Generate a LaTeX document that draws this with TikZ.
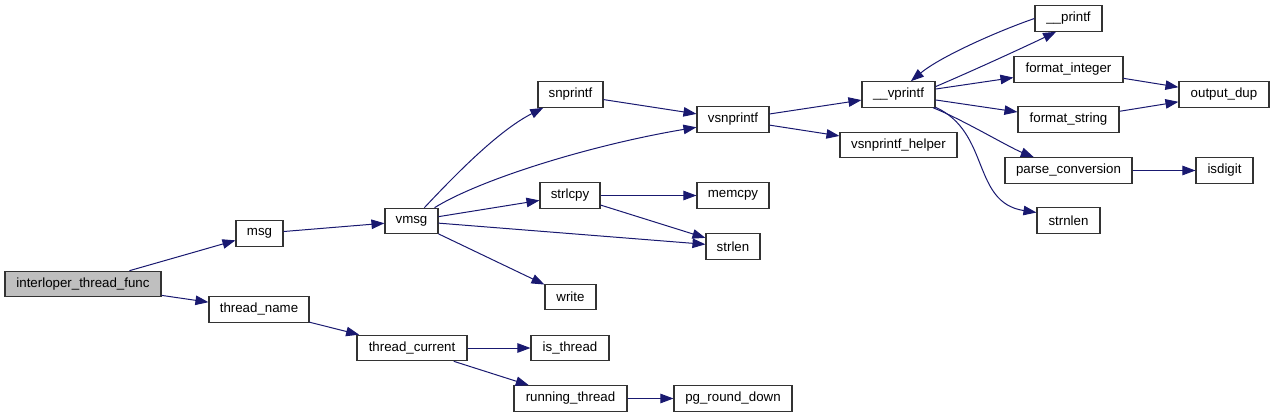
\documentclass[tikz,border=0pt]{standalone}
\usepackage{fontspec}
\newfontfamily\fnfont{Liberation Sans}
\usetikzlibrary{arrows.meta}
\definecolor{midnight}{HTML}{191970}
\definecolor{boxgray}{HTML}{BFBFBF}
\tikzset{
  fn/.style={draw=black!80, line width=1.1pt, fill=white, inner sep=0pt,
    minimum height=25.5pt, font=\fnfont\fontsize{13.3}{16}\selectfont},
  call/.style={draw=midnight, line width=1pt,
    -{Triangle[length=13pt,width=9.5pt,fill=midnight]}}
}
\begin{document}
\begin{tikzpicture}[x=1pt,y=-1pt]
\useasboundingbox (0,0) rectangle (1275,417);
% nodes
\node[fn, fill=boxgray, minimum width=156pt] (itf) at (83,284) {interloper\_thread\_func};
\node[fn, minimum width=47pt] (msg) at (259.5,233.5) {msg};
\node[fn, minimum width=53pt] (vmsg) at (411.5,221) {vmsg};
\node[fn, minimum width=100pt] (tname) at (259,309.5) {thread\_name};
\node[fn, minimum width=110pt] (tcur) at (412,348) {thread\_current};
\node[fn, minimum width=65pt] (snp) at (570.5,94.5) {snprintf};
\node[fn, minimum width=72pt] (vsnp) at (733,119.5) {vsnprintf};
\node[fn, minimum width=60pt] (strlcpy) at (570,195.5) {strlcpy};
\node[fn, minimum width=72pt] (memcpy) at (733,195.5) {memcpy};
\node[fn, minimum width=54pt] (strlen) at (733,246.5) {strlen};
\node[fn, minimum width=51pt] (write) at (570.5,297) {write};
\node[fn, minimum width=67pt] (pf) at (1068.5,18.5) {\_\_printf};
\node[fn, minimum width=73pt] (vpf) at (898.5,94.5) {\_\_vprintf};
\node[fn, minimum width=109pt] (fint) at (1068.5,69.5) {format\_integer};
\node[fn, minimum width=90pt] (odup) at (1224,94.5) {output\_dup};
\node[fn, minimum width=101pt] (fstr) at (1068.5,119.5) {format\_string};
\node[fn, minimum width=117pt] (vsh) at (898.5,145) {vsnprintf\_helper};
\node[fn, minimum width=127pt] (pconv) at (1068.5,170.5) {parse\_conversion};
\node[fn, minimum width=57pt] (isd) at (1224.5,170.5) {isdigit};
\node[fn, minimum width=63pt] (strnlen) at (1068.5,220.5) {strnlen};
\node[fn, minimum width=78pt] (isth) at (570,348) {is\_thread};
\node[fn, minimum width=113pt] (rth) at (570.5,398.5) {running\_thread};
\node[fn, minimum width=118pt] (pgrd) at (733,398.5) {pg\_round\_down};
% straight edges
\draw[call] (itf) -- (msg);
\draw[call] (itf) -- (tname);
\draw[call] (msg) -- (vmsg);
\draw[call] (vmsg) -- (strlcpy);
\draw[call] (vmsg) -- (strlen);
\draw[call] (vmsg) -- (write);
\draw[call] (snp) -- (vsnp);
\draw[call] (strlcpy) -- (memcpy);
\draw[call] (strlcpy) -- (strlen);
\draw[call] (vsnp) -- (vpf);
\draw[call] (vsnp) -- (vsh);
\draw[call] (vpf) -- (fint);
\draw[call] (vpf) -- (fstr);
\draw[call] (fint) -- (odup);
\draw[call] (fstr) -- (odup);
\draw[call] (pconv) -- (isd);
\draw[call] (tname) -- (tcur);
\draw[call] (tcur) -- (isth);
\draw[call] (tcur) -- (rth);
\draw[call] (rth) -- (pgrd);
% curved edges
\draw[call] (vmsg.46) .. controls +(31,-33) and +(-45,23) .. (snp.206);
\draw[call] (vmsg.30) .. controls +(45,-28) and +(-107,18) .. (vsnp.192);
\draw[call] (vpf.12) .. controls +(40,-17) and +(-27,13) .. (pf.227);
\draw[call] (pf.west) .. controls +(-35,12) and +(30,-25) .. (vpf.47);
\draw[call] (vpf.-21) .. controls +(30,12) and +(-25,-10) .. (pconv.159.5);
\draw[call] (vpf.-19) .. controls +(55,25) and +(-65,-10) .. (strnlen.166.6);
\end{tikzpicture}
\end{document}
